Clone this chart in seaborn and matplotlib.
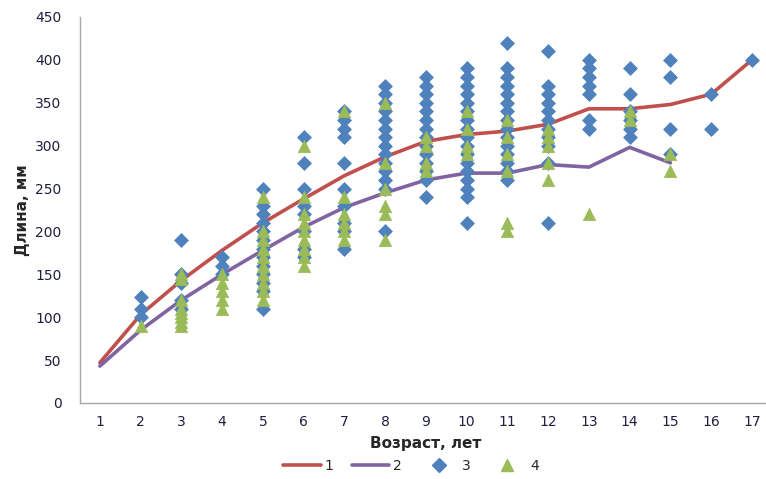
import matplotlib
matplotlib.use("Agg")
import matplotlib.pyplot as plt
from matplotlib.lines import Line2D
import seaborn as sns
import pandas as pd

# ---- data ----
ages_line1 = list(range(1, 18))
line1 = [47, 103, 143, 178, 210, 238, 265, 287, 305, 313, 317, 325, 343, 343, 348, 360, 400]
ages_line2 = list(range(1, 16))
line2 = [43, 85, 120, 150, 178, 205, 228, 245, 260, 268, 268, 278, 275, 298, 280]

# series 3 (diamonds), per age
s3 = {
    2: [123, 110, 100],
    3: [190, 150, 140, 120, 110],
    4: [170, 160, 150],
    5: [250, 230, 220, 210, 200, 190, 180, 170, 160, 150, 140, 130, 110],
    6: [310, 280, 250, 230, 220, 200, 180, 170],
    7: [340, 330, 320, 310, 280, 250, 230, 210, 200, 180],
    8: [370, 360, 350, 340, 330, 320, 310, 300, 290, 280, 270, 260, 250, 200],
    9: [380, 370, 360, 350, 340, 330, 320, 310, 300, 290, 280, 270, 260, 240],
    10: [390, 380, 370, 360, 350, 340, 330, 320, 310, 300, 290, 280, 270, 260, 250, 240, 210],
    11: [420, 390, 380, 370, 360, 350, 340, 330, 320, 310, 300, 290, 280, 270, 260],
    12: [410, 370, 360, 350, 340, 330, 320, 310, 300, 280, 210],
    13: [400, 390, 380, 370, 360, 330, 320],
    14: [390, 360, 340, 330, 320, 310],
    15: [400, 380, 320, 290],
    16: [360, 320],
    17: [400],
}
# series 4 (triangles), per age
s4 = {
    2: [90],
    3: [150, 145, 120, 110, 105, 100, 95, 90],
    4: [150, 140, 130, 120, 110],
    5: [240, 200, 190, 180, 170, 160, 150, 140, 130, 120],
    6: [300, 240, 220, 210, 200, 190, 180, 170, 160],
    7: [340, 240, 220, 210, 200, 190],
    8: [350, 280, 250, 230, 220, 190],
    9: [310, 300, 280, 270],
    10: [340, 320, 300, 290],
    11: [330, 310, 290, 270, 210, 200],
    12: [320, 310, 300, 280, 260],
    13: [220],
    14: [340, 330],
    15: [290, 270],
}
x_ticks = list(range(1, 18))
y_ticks = list(range(0, 451, 50))

RED = "#C0504D"
PURPLE = "#8064A2"
BLUE = "#4F81BD"
GREEN = "#9BBB59"

df3 = pd.DataFrame([(k, v) for k, vs in s3.items() for v in vs], columns=["age", "len"])
df4 = pd.DataFrame([(k, v) for k, vs in s4.items() for v in vs], columns=["age", "len"])
dl1 = pd.DataFrame({"age": ages_line1, "len": line1})
dl2 = pd.DataFrame({"age": ages_line2, "len": line2})

sns.set_style("white")
plt.rcParams["font.family"] = ["DejaVu Sans"]

fig = plt.figure(figsize=(7.66, 4.79), dpi=100)
W, H = 766, 479
left, right = 79.5, 772.3
bottom, top = 403, 17
ax = fig.add_axes([left / W, (H - bottom) / H, (right - left) / W, (bottom - top) / H])

sns.scatterplot(data=df3, x="age", y="len", marker="D", s=50, color=BLUE,
                edgecolor=BLUE, linewidth=0.5, ax=ax, zorder=3)
sns.scatterplot(data=df4, x="age", y="len", marker="^", s=80, color=GREEN,
                edgecolor=GREEN, linewidth=0.5, ax=ax, zorder=4)
sns.lineplot(data=dl1, x="age", y="len", color=RED, linewidth=2.6, ax=ax, zorder=2)
sns.lineplot(data=dl2, x="age", y="len", color=PURPLE, linewidth=2.6, ax=ax, zorder=2)

ax.set_xlim(0.5, 17.5)
ax.set_ylim(0, 450)
ax.set_xticks(x_ticks)
ax.set_xticklabels([str(t) for t in x_ticks])
ax.set_xticks([t + 0.5 for t in range(0, 17)], minor=True)
ax.set_yticks(y_ticks)
ax.set_yticklabels([str(t) for t in y_ticks])

for s in ["top", "right"]:
    ax.spines[s].set_visible(False)
for s in ["left", "bottom"]:
    ax.spines[s].set_color("#A6A6A6")
    ax.spines[s].set_linewidth(1.0)

ax.tick_params(axis="x", which="major", length=0, pad=9, labelsize=10, labelcolor="#1F1F3F")
ax.tick_params(axis="x", which="minor", length=5, color="#A6A6A6", direction="out")
ax.tick_params(axis="y", which="major", length=5, color="#A6A6A6", direction="out",
               pad=8, labelsize=10, labelcolor="#1F1F3F")

ax.set_xlabel("Возраст, лет", fontsize=11, fontweight="bold", labelpad=5)
ax.set_ylabel("Длина, мм", fontsize=11, fontweight="bold", labelpad=4)

handles = [
    Line2D([], [], color=RED, lw=2.6),
    Line2D([], [], color=PURPLE, lw=2.6),
    Line2D([], [], color=BLUE, marker="D", linestyle="None", markersize=7),
    Line2D([], [], color=GREEN, marker="^", linestyle="None", markersize=8.5),
]
fig.legend(handles, ["1", "2", "3", "4"], loc="center", bbox_to_anchor=(411 / W, 1 - 466 / H),
           ncol=4, frameon=False, fontsize=10, handlelength=2.7, columnspacing=1.3,
           handletextpad=0.3)

fig.savefig("out.png", dpi=100)
